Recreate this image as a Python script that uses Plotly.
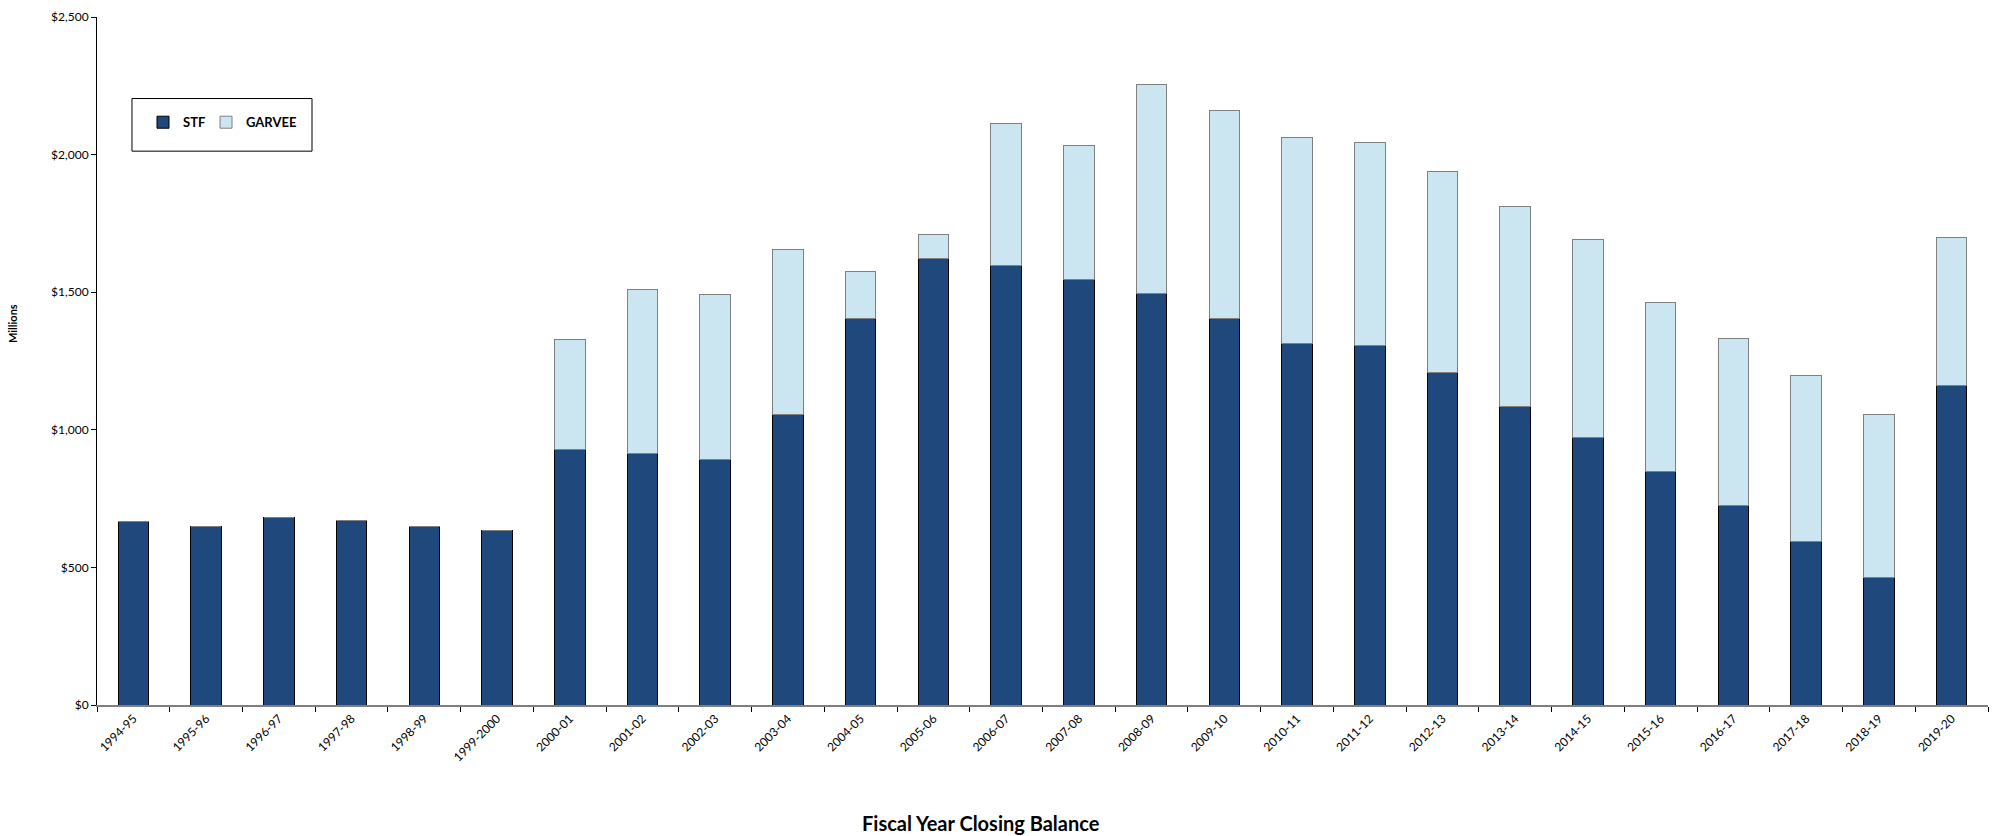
import plotly.graph_objects as go

years = ["1994-95", "1995-96", "1996-97", "1997-98", "1998-99", "1999-2000",
         "2000-01", "2001-02", "2002-03", "2003-04", "2004-05", "2005-06",
         "2006-07", "2007-08", "2008-09", "2009-10", "2010-11", "2011-12",
         "2012-13", "2013-14", "2014-15", "2015-16", "2016-17", "2017-18",
         "2018-19", "2019-20"]

stf = [668, 648, 683, 672, 648, 635,
       930, 913, 891, 1057, 1403, 1621,
       1597, 1545, 1495, 1403, 1314, 1305,
       1208, 1083, 972, 848, 725, 595,
       462, 1161]

total = [668, 648, 683, 672, 648, 635,
         1328, 1511, 1490, 1656, 1575, 1708,
         2113, 2033, 2255, 2162, 2063, 2045,
         1939, 1810, 1690, 1464, 1332, 1198,
         1057, 1699]

garvee = [t - s for t, s in zip(total, stf)]

y_ticks = [0, 500, 1000, 1500, 2000, 2500]
y_tick_text = ["$" + format(v, ",") for v in y_ticks]

FONT = "Lato, Carlito, Calibri, 'Open Sans', sans-serif"

fig = go.Figure()
fig.add_trace(go.Bar(
    x=years, y=stf, name="STF", legend="legend",
    marker=dict(color="#1F497D", line=dict(color="#000000", width=1)),
))
fig.add_trace(go.Bar(
    x=years, y=garvee, name="GARVEE", legend="legend2",
    marker=dict(color="#CBE5F1", line=dict(color="#808080", width=1)),
))

legend_common = dict(
    orientation="h",
    yanchor="middle", y=0.847,
    xanchor="left",
    bgcolor="rgba(0,0,0,0)",
    borderwidth=0,
    font=dict(family=FONT, size=13, color="#000000", weight="bold"),
)

fig.update_layout(
    barmode="stack",
    bargap=0.58,
    width=1997, height=836,
    margin=dict(l=97, r=9, t=13, b=131),
    paper_bgcolor="white", plot_bgcolor="white",
    font=dict(family=FONT, size=12, color="#000000"),
    showlegend=True,
    legend=dict(legend_common, x=(143 - 97) / 1891),
    legend2=dict(legend_common, x=(206 - 97) / 1891),
    xaxis=dict(
        type="category",
        showline=True, linecolor="#7F7F7F", linewidth=2,
        ticks="outside", tickson="boundaries", ticklen=5,
        tickcolor="#000000", tickwidth=1,
        tickangle=-45,
        tickfont=dict(family=FONT, size=12, color="#000000"),
        showgrid=False, zeroline=False,
    ),
    yaxis=dict(
        range=[0, 2500],
        tickvals=y_ticks,
        ticktext=y_tick_text,
        showline=True, linecolor="#000000", linewidth=1,
        ticks="outside", ticklen=5, tickcolor="#000000",
        tickfont=dict(family=FONT, size=12, color="#000000"),
        showgrid=False, zeroline=False,
    ),
    shapes=[dict(
        type="rect", xref="paper", yref="paper",
        x0=0.0185, x1=0.1137, y0=0.805, y1=0.8815,
        line=dict(color="#000000", width=1), fillcolor="rgba(0,0,0,0)",
    )],
    annotations=[
        dict(text="<b>Millions</b>", xref="paper", yref="paper",
             x=-0.045, y=0.555, xanchor="center", yanchor="middle",
             textangle=-90, showarrow=False,
             font=dict(family=FONT, size=11, color="#000000")),
        dict(text="<b>Fiscal Year Closing Balance</b>", xref="paper", yref="paper",
             x=(981 - 97) / 1891, y=-(824 - 705) / 692,
             xanchor="center", yanchor="middle", showarrow=False,
             font=dict(family=FONT, size=20, color="#000000")),
    ],
)

fig.write_html("out.html")
